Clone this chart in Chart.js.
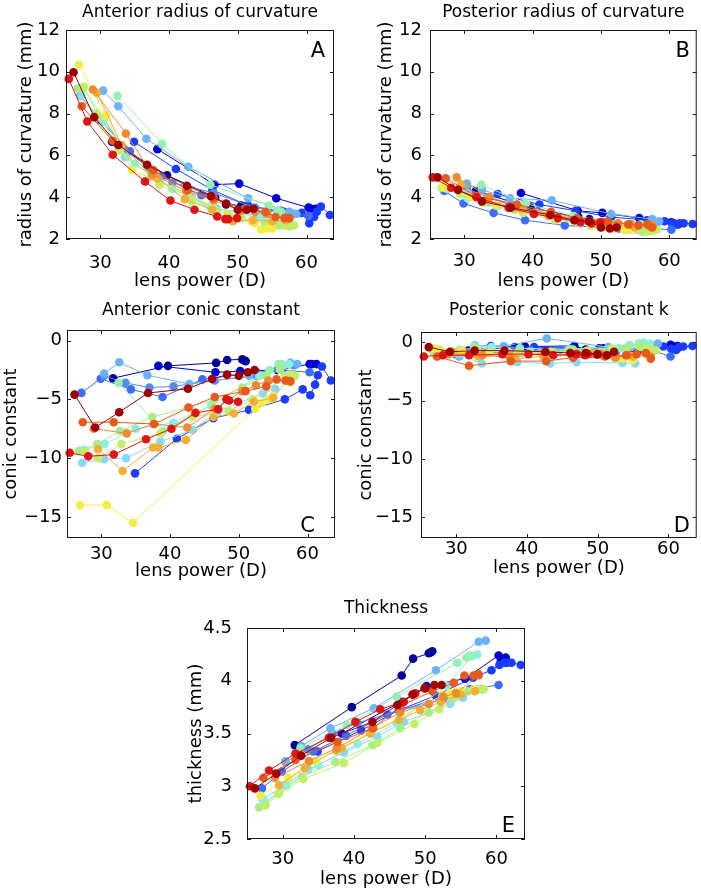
<!DOCTYPE html>
<html>
<head>
<meta charset="utf-8">
<script src="https://cdn.jsdelivr.net/npm/chart.js@4.4.0/dist/chart.umd.min.js"></script>
<style>
  body { margin: 0; background: #fff; }
  #wrap { position: relative; width: 701px; height: 890px; }
  canvas { position: absolute; }
</style>
</head>
<body>
<div id="wrap">
  <canvas id="chartA"></canvas>
  <canvas id="chartB"></canvas>
  <canvas id="chartC"></canvas>
  <canvas id="chartD"></canvas>
  <canvas id="chartE"></canvas>
</div>
<script>
// one colour per lens (jet colormap order)
const lensColors = [
  '#00009a', '#0000d2', '#1a3cff', '#3d6cf5', '#5a8ae8', '#6cb2f8', '#88d8f8', '#88f0e8', '#98f0b0',
  '#a8ee88', '#c4ee68', '#f2ee48', '#f0b038', '#ee8a30', '#e85a1c', '#e01414', '#a00000'
];

// lens power (D) of every measurement, per lens
const lensPower = [
  [31.7, 39.7, 46.7, 48.3, 50.5, 50.8, 51.0],
  [38.3, 46.6, 50.2, 55.6, 60.3, 60.6, 61.3],
  [34.9, 41.0, 46.3, 51.5, 56.7, 59.3, 60.4, 61.1, 61.5, 62.1, 63.4],
  [27.1, 29.9, 34.3, 38.9, 44.7, 52.6, 56.3, 60.3],
  [30.4, 33.5, 37.0, 40.5, 46.5, 52.5, 58.0],
  [30.4, 32.6, 36.7, 42.8, 51.5, 57.5, 58.5],
  [27.2, 30.4, 33.6, 38.6, 43.3, 47.0, 53.5, 55.3],
  [27.5, 30.5, 35.0, 40.5, 46.0, 53.0, 56.5, 57.3],
  [32.5, 39.0, 46.0, 54.5, 55.8, 56.3],
  [26.7, 29.4, 32.7, 37.4, 42.6, 46.5, 50.5, 54.0, 56.0],
  [27.6, 29.5, 32.9, 38.6, 43.3, 48.5, 52.0, 56.8, 57.5, 58.2],
  [26.9, 30.8, 34.6, 52.4, 53.4, 54.3, 55.0],
  [29.5, 33.1, 37.5, 38.3, 42.3, 46.3, 49.3, 52.2, 55.0, 57.0],
  [28.9, 33.7, 37.6, 42.5, 46.5, 50.5, 52.5, 54.3, 57.5],
  [27.3, 31.8, 37.7, 42.7, 46.5, 51.0, 54.0, 55.5, 56.8, 57.5],
  [25.4, 28.1, 31.8, 36.5, 40.2, 43.7, 47.0, 48.2, 48.6, 49.9],
  [26.1, 29.1, 32.6, 36.8, 42.6, 46.1, 48.3, 50.0, 51.3, 52.3]
];

// A: anterior radius of curvature (mm)
const antRadius = [
  [6.65, 5.05, 4.0, 3.65, 3.6, 3.55, 3.5],
  [6.3, 4.6, 4.65, 3.95, 3.5, 3.45, 3.45],
  [6.65, 5.35, 4.35, 3.6, 3.3, 3.25, 2.75, 3.05, 3.3, 3.55, 3.15],
  [8.85, 7.7, 6.2, 5.0, 4.1, 3.3, 3.35, 3.1],
  [7.75, 6.3, 5.4, 4.7, 4.2, 3.5, 3.2],
  [9.1, 8.35, 6.8, 5.45, 3.95, 3.3, 3.2],
  [8.85, 7.6, 5.9, 4.8, 4.0, 3.45, 3.1, 3.0],
  [9.2, 7.75, 5.6, 4.4, 3.5, 3.05, 2.75, 2.7],
  [8.85, 6.55, 4.6, 3.6, 3.35, 3.3],
  [9.2, 7.8, 6.25, 5.0, 4.15, 3.4, 3.0, 2.75, 2.65],
  [9.3, 8.0, 6.3, 4.6, 3.8, 3.2, 2.85, 2.65, 2.6, 2.65],
  [10.35, 7.9, 5.3, 2.75, 2.45, 2.5, 2.5],
  [9.0, 6.5, 5.0, 4.9, 3.9, 3.4, 2.85, 2.9, 2.85, 2.9],
  [9.15, 7.05, 5.1, 4.3, 3.85, 3.35, 3.3, 3.2, 3.0],
  [8.35, 6.7, 5.3, 4.35, 3.95, 3.45, 3.3, 3.05, 3.0, 3.0],
  [9.66, 7.62, 6.03, 4.75, 3.84, 3.4, 3.08, 2.95, 2.95, 3.0],
  [9.98, 7.83, 6.5, 5.55, 4.55, 4.05, 3.7, 3.4, 3.4, 3.45]
];

// B: posterior radius of curvature (mm)
const postRadius = [
  [4.3, 3.5, 3.05, 2.95, 2.8, 2.75, 2.7],
  [4.2, 3.35, 3.25, 3.0, 2.8, 2.75, 2.7],
  [4.15, 3.65, 3.35, 3.05, 2.9, 2.85, 2.75, 2.7, 2.75, 2.75, 2.72],
  [4.3, 3.7, 3.25, 2.9, 2.65, 2.5, 2.5, 2.45],
  [4.4, 4.0, 3.6, 3.3, 2.9, 2.7, 2.65],
  [4.65, 4.35, 3.95, 3.85, 3.2, 2.95, 2.85],
  [4.45, 4.2, 3.75, 3.3, 3.0, 2.75, 2.5, 2.45],
  [4.4, 3.95, 3.6, 3.25, 2.9, 2.6, 2.5, 2.45],
  [4.6, 3.7, 3.1, 2.75, 2.7, 2.65],
  [4.45, 4.15, 3.75, 3.4, 3.1, 2.8, 2.55, 2.45, 2.35],
  [4.45, 4.2, 3.75, 3.25, 2.9, 2.65, 2.5, 2.35, 2.4, 2.45],
  [4.5, 4.0, 3.6, 2.55, 2.45, 2.45, 2.5],
  [4.6, 3.85, 3.5, 3.45, 3.1, 2.9, 2.7, 2.65, 2.55, 2.6],
  [4.95, 4.0, 3.6, 3.2, 2.95, 2.8, 2.75, 2.7, 2.65],
  [4.9, 4.05, 3.65, 3.3, 3.0, 2.85, 2.7, 2.65, 2.7, 2.55],
  [4.95, 4.45, 4.0, 3.5, 3.2, 3.0, 2.8, 2.85, 2.75, 2.8],
  [4.95, 4.35, 3.8, 3.5, 3.15, 2.9, 2.85, 2.55, 2.5, 2.55]
];

// C: anterior conic constant
const antConic = [
  [-3.2, -2.15, -1.9, -1.65, -1.6, -1.7, -1.75],
  [-2.15, -2.7, -2.6, -2.5, -2.0, -2.0, -2.0],
  [-11.3, -8.35, -6.6, -5.9, -5.0, -4.15, -4.65, -3.75, -2.95, -2.2, -3.4],
  [-4.45, -3.25, -4.15, -4.8, -3.3, -2.7, -2.5, -2.7],
  [-3.0, -3.6, -4.0, -3.9, -3.4, -3.0, -2.1],
  [-2.8, -1.85, -2.95, -3.7, -3.0, -1.9, -2.0],
  [-10.4, -10.1, -10.0, -8.6, -7.6, -6.0, -4.5, -4.1],
  [-9.3, -8.8, -7.5, -7.0, -5.5, -3.0, -2.1, -2.0],
  [-3.6, -7.7, -5.5, -2.5, -2.0, -2.0],
  [-9.4, -8.8, -7.7, -6.5, -5.7, -5.0, -4.0, -3.0, -2.5],
  [-9.4, -10.0, -8.8, -7.9, -6.5, -6.0, -5.0, -3.0, -2.9, -3.0],
  [-14.0, -14.0, -15.5, -5.8, -5.3, -5.0, -4.7],
  [-9.25, -11.1, -9.1, -9.1, -8.45, -6.5, -6.2, -5.2, -4.9, -3.4],
  [-7.5, -7.9, -7.1, -7.4, -5.8, -4.3, -3.8, -3.4, -3.5],
  [-6.95, -6.95, -7.1, -5.7, -4.8, -4.3, -3.9, -3.3, -3.4, -3.45],
  [-9.55, -9.85, -9.7, -8.4, -7.5, -6.15, -5.85, -5.0, -5.1, -5.2],
  [-4.6, -7.4, -6.1, -4.46, -4.1, -3.27, -2.9, -3.0, -2.7, -2.5]
];

// D: posterior conic constant k
const postConic = [
  [-0.7, -0.35, -0.3, -0.6, -0.8, -0.5, -0.6],
  [-0.4, -0.7, -0.5, -0.8, -0.2, -0.3, -0.3],
  [-0.3, -0.4, -0.5, -0.7, -0.5, -0.35, -0.55, -0.65, -0.4, -0.35, -0.3],
  [-0.8, -1.0, -0.9, -0.7, -0.6, -0.8, -0.4, -1.2],
  [-0.9, -0.8, -1.0, -0.7, -0.8, -0.6, -0.4],
  [-1.2, -0.25, -0.3, 0.35, -0.4, -0.2, -0.1],
  [-1.2, -1.0, -1.8, -1.7, -1.8, -1.7, -1.75, -1.8],
  [-1.0, -0.6, -0.4, -0.8, -0.6, -0.5, 0.0, -0.1],
  [-0.3, -0.5, -0.6, -0.2, -0.1, -0.2],
  [-0.8, -0.9, -1.0, -1.1, -0.9, -0.6, -0.8, -0.5, -0.4],
  [-0.6, -0.8, -0.6, -0.9, -0.8, -0.7, -0.5, -0.6, -0.5, -0.7],
  [-0.5, -0.7, -0.9, -1.3, -1.4, -1.2, -1.5],
  [-0.8, -1.2, -1.0, -1.4, -1.2, -1.1, -1.0, -1.1, -1.2, -1.0],
  [-1.0, -1.1, -1.3, -0.9, -1.2, -1.0, -1.3, -1.1, -1.2],
  [-1.2, -2.0, -1.6, -1.6, -1.3, -1.2, -1.1, -1.0, -0.9, -1.4],
  [-1.2, -1.1, -1.1, -1.0, -1.0, -1.1, -1.0, -1.1, -1.0, -1.05],
  [-0.4, -0.8, -0.7, -0.7, -0.8, -0.9, -0.9, -1.0, -1.1, -0.8]
];

// E: thickness (mm)
const thickness = [
  [3.39, 3.75, 4.05, 4.21, 4.26, 4.27, 4.28],
  [3.50, 3.80, 3.95, 4.02, 4.24, 4.18, 4.22],
  [3.33, 3.53, 3.72, 3.86, 4.03, 4.10, 4.15, 4.17, 4.17, 4.17, 4.15],
  [2.98, 3.14, 3.33, 3.48, 3.68, 3.85, 3.92, 3.96],
  [3.23, 3.35, 3.5, 3.6, 3.72, 3.82, 3.92],
  [3.24, 3.38, 3.55, 3.74, 4.1, 4.37, 4.38],
  [2.88, 3.01, 3.16, 3.32, 3.47, 3.61, 3.78, 3.84],
  [2.85, 3.0, 3.2, 3.4, 3.6, 3.95, 4.23, 4.25],
  [3.36, 3.58, 3.85, 4.17, 4.22, 4.24],
  [2.80, 2.93, 3.09, 3.23, 3.39, 3.55, 3.70, 3.84, 3.9],
  [2.82, 2.93, 3.07, 3.22, 3.41, 3.59, 3.73, 3.92, 3.92, 3.92],
  [2.91, 3.08, 3.24, 3.86, 3.88, 3.89, 3.9],
  [3.01, 3.17, 3.34, 3.36, 3.50, 3.63, 3.72, 3.80, 3.87, 3.9],
  [3.08, 3.24, 3.36, 3.55, 3.70, 3.78, 3.85, 3.88, 4.05],
  [3.08, 3.25, 3.42, 3.55, 3.76, 3.90, 3.98, 4.05, 4.05, 4.06],
  [3.0, 3.15, 3.31, 3.46, 3.61, 3.73, 3.8, 3.87, 3.88, 3.93],
  [2.98, 3.12, 3.29, 3.46, 3.61, 3.77, 3.87, 3.93, 3.96, 3.96]
];

const xTicks = [30, 40, 50, 60];
const radiusTicks = [2, 4, 6, 8, 10, 12];
const conicTicks = [-15, -10, -5, 0];
const thicknessTicks = [2.5, 3, 3.5, 4, 4.5];

const FONT = '"DejaVu Sans", "Liberation Sans", sans-serif';

// frame, inward tick marks, panel title and panel letter
const decor = {
  id: 'decor',
  afterDraw(chart, args, o) {
    const { ctx, chartArea: a, scales: { x, y } } = chart;
    ctx.save();
    ctx.strokeStyle = '#1a1a1a';
    ctx.lineWidth = 1;
    ctx.strokeRect(a.left + 0.5, a.top + 0.5, a.right - a.left - 1, a.bottom - a.top - 1);
    ctx.beginPath();
    x.ticks.forEach((t) => {
      const px = Math.round(x.getPixelForValue(t.value)) + 0.5;
      ctx.moveTo(px, a.bottom); ctx.lineTo(px, a.bottom - 4);
      ctx.moveTo(px, a.top); ctx.lineTo(px, a.top + 4);
    });
    y.ticks.forEach((t) => {
      const py = Math.round(y.getPixelForValue(t.value)) + 0.5;
      ctx.moveTo(a.left, py); ctx.lineTo(a.left + 4, py);
      ctx.moveTo(a.right, py); ctx.lineTo(a.right - 4, py);
    });
    ctx.stroke();
    ctx.fillStyle = '#000';
    ctx.textBaseline = 'alphabetic';
    ctx.font = '17px ' + FONT;
    ctx.textAlign = 'center';
    ctx.fillText(o.title, (a.left + a.right) / 2, o.titleY);
    ctx.font = '21px ' + FONT;
    ctx.textAlign = 'right';
    ctx.fillText(o.letter, o.letterX, o.letterY);
    ctx.restore();
  }
};

const fmt = (v) => String(v).replace('-', '\u2212');

const makePanel = (p) => {
  const el = document.getElementById(p.id);
  const [cl, ct, cw, ch] = p.canvas;
  const [pl, pr, pt, pb] = p.plot;
  el.width = cw;
  el.height = ch;
  el.style.left = cl + 'px';
  el.style.top = ct + 'px';

  const datasets = lensPower.map((pw, i) => ({
    data: pw.map((x, j) => ({ x: x, y: p.values[i][j] })),
    showLine: true,
    borderColor: lensColors[i],
    backgroundColor: lensColors[i],
    pointBackgroundColor: lensColors[i],
    pointBorderWidth: 0,
    pointRadius: 4.3,
    borderWidth: 1,
    order: -i,
    clip: false
  }));

  return new Chart(el, {
    type: 'scatter',
    data: { datasets },
    options: {
      responsive: false,
      animation: false,
      devicePixelRatio: 1,
      layout: { padding: { left: 0, top: pt - ct, right: cl + cw - pr, bottom: 0 } },
      plugins: {
        legend: { display: false },
        tooltip: { enabled: false },
        decor: {
          title: p.title, titleY: p.titleY - ct,
          letter: p.letter, letterX: p.letterX - cl, letterY: p.letterY - ct
        }
      },
      scales: {
        x: {
          type: 'linear', min: 25, max: 64,
          afterFit: (s) => { s.height = ct + ch - pb; },
          afterBuildTicks: (s) => { s.ticks = xTicks.map((v) => ({ value: v })); },
          grid: { display: false, drawTicks: false },
          border: { display: false },
          ticks: { color: '#000', padding: p.xTickPad, maxRotation: 0, autoSkip: false,
                   font: { family: FONT, size: 18 }, callback: fmt },
          title: { display: true, text: 'lens power (D)', color: '#000',
                   font: { family: FONT, size: 18 }, padding: { top: 0, bottom: ch - (p.xTitleMid - ct) - 10.8 } }
        },
        y: {
          type: 'linear', min: p.yMin, max: p.yMax,
          afterFit: (s) => { s.width = pl - cl; },
          afterBuildTicks: (s) => { s.ticks = p.yTicks.map((v) => ({ value: v })); },
          grid: { display: false, drawTicks: false },
          border: { display: false },
          ticks: { color: '#000', padding: p.yTickPad, autoSkip: false,
                   font: { family: FONT, size: 18 }, callback: fmt },
          title: { display: true, text: p.yTitle, color: '#000',
                   font: { family: FONT, size: 18 }, padding: { top: p.yTitleMid - cl - 10.8, bottom: 0 } }
        }
      }
    },
    plugins: [decor]
  });
}

makePanel({
  id: 'chartA', canvas: [0, 0, 345, 295], plot: [66, 334, 30, 239],
  values: antRadius, yMin: 2, yMax: 12, yTicks: radiusTicks,
  title: 'Anterior radius of curvature', titleY: 17, letter: 'A', letterX: 325, letterY: 57,
  yTitle: 'radius of curvature (mm)', yTitleMid: 26, xTitleMid: 281, xTickPad: 14, yTickPad: 6
});

makePanel({
  id: 'chartB', canvas: [350, 0, 351, 295], plot: [430, 698, 30, 239],
  values: postRadius, yMin: 2, yMax: 12, yTicks: radiusTicks,
  title: 'Posterior radius of curvature', titleY: 17, letter: 'B', letterX: 690, letterY: 57,
  yTitle: 'radius of curvature (mm)', yTitleMid: 386, xTitleMid: 281, xTickPad: 12, yTickPad: 8
});

makePanel({
  id: 'chartC', canvas: [0, 295, 345, 295], plot: [67, 335, 330, 538],
  values: antConic, yMin: -16.8, yMax: 0.9, yTicks: conicTicks,
  title: 'Anterior conic constant', titleY: 315, letter: 'C', letterX: 315, letterY: 532,
  yTitle: 'conic constant', yTitleMid: 11, xTitleMid: 571, xTickPad: 6, yTickPad: 5
});

makePanel({
  id: 'chartD', canvas: [350, 295, 351, 295], plot: [421, 699, 332, 538],
  values: postConic, yMin: -16.8, yMax: 0.9, yTicks: conicTicks,
  title: 'Posterior conic constant k', titleY: 315, letter: 'D', letterX: 690, letterY: 532,
  yTitle: 'conic constant', yTitleMid: 366, xTitleMid: 568, xTickPad: 1, yTickPad: 8
});

makePanel({
  id: 'chartE', canvas: [170, 590, 370, 300], plot: [247, 525, 628, 839],
  values: thickness, yMin: 2.5, yMax: 4.5, yTicks: thicknessTicks,
  title: 'Thickness', titleY: 613, letter: 'E', letterX: 515, letterY: 832,
  yTitle: 'thickness (mm)', yTitleMid: 196, xTitleMid: 879, xTickPad: 10, yTickPad: 15
});
</script>
</body>
</html>
